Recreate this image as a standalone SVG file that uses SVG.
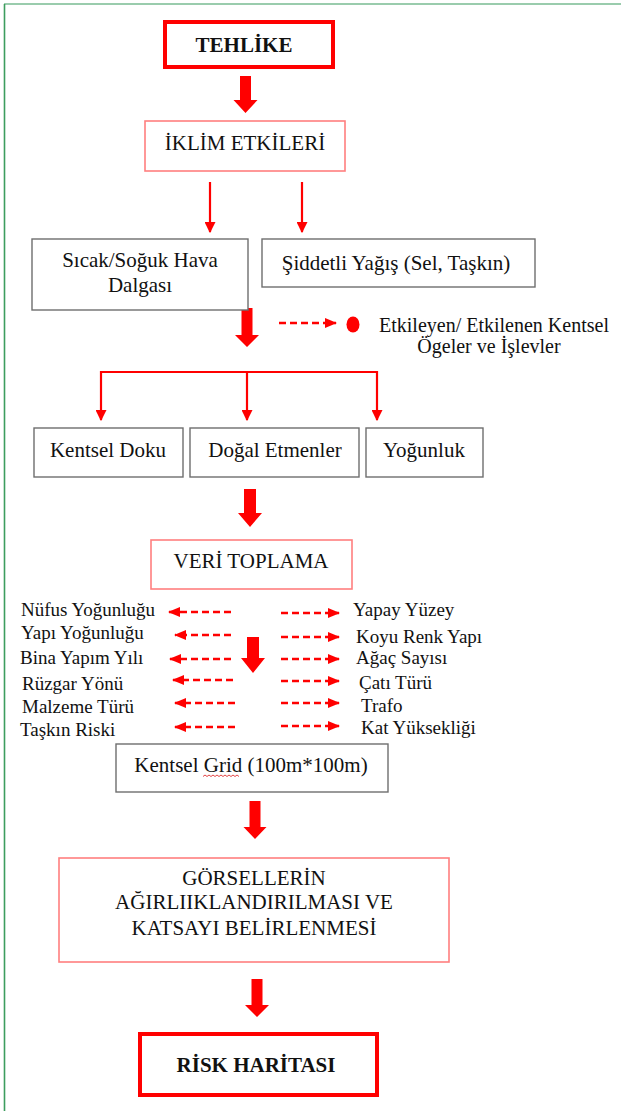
<svg xmlns="http://www.w3.org/2000/svg" width="621" height="1111" viewBox="0 0 621 1111">
<style>
text{font-family:"Liberation Serif","Times New Roman",serif;fill:#111}
.t{font-size:21px;text-anchor:middle}
.b{font-size:21px;font-weight:bold;text-anchor:middle}
.l{font-size:19px}
.lg{font-size:20px;text-anchor:middle}
.thick{fill:#fff;stroke:#ff0000;stroke-width:4}
.pink{fill:#fff;stroke:#ff7f7f;stroke-width:1.6}
.gray{fill:#fff;stroke:#6e6e6e;stroke-width:1.4}
.blk{fill:#ff0000;stroke:none}
.thin{stroke:#ff0000;stroke-width:2.2;fill:none}
.dash{stroke:#ff0000;stroke-width:2.6;fill:none;stroke-dasharray:7 4}
</style>
<defs>
<marker id="ah" viewBox="0 0 10 10" refX="9" refY="5" markerWidth="11" markerHeight="11" markerUnits="userSpaceOnUse" orient="auto">
<path d="M0,0 L10,5 L0,10 Z" fill="#ff0000"/>
</marker>
<marker id="dh" viewBox="0 0 12 10" refX="11" refY="5" markerWidth="12" markerHeight="10" markerUnits="userSpaceOnUse" orient="auto">
<path d="M0,0 L12,5 L0,10 Z" fill="#ff0000"/>
</marker>
</defs>

<g id="frame">
<line x1="4" y1="4" x2="621" y2="4" stroke="#78bb92" stroke-width="1.6"/>
<line x1="4.5" y1="4" x2="4.5" y2="1111" stroke="#3d9d5e" stroke-width="1.6"/>
</g>

<g id="connectors">
<polygon class="blk" points="240,76 251,76 251,100 257.5,100 245.5,113 233.5,100 240,100"/>
<line class="thin" x1="210" y1="182" x2="210" y2="232" marker-end="url(#ah)"/>
<line class="thin" x1="302" y1="182" x2="302" y2="232" marker-end="url(#ah)"/>
<polygon class="blk" points="241.5,308 252.5,308 252.5,335 259,335 247,347 235,335 241.5,335"/>
<path class="thin" d="M101,372 H377" stroke-width="2.6"/>
<line class="thin" x1="101" y1="371" x2="101" y2="420" marker-end="url(#ah)"/>
<line class="thin" x1="247" y1="371" x2="247" y2="420" marker-end="url(#ah)"/>
<line class="thin" x1="377" y1="371" x2="377" y2="420" marker-end="url(#ah)"/>
<polygon class="blk" points="244,489 256,489 256,513 262,513 250,527 238,513 244,513"/>
<polygon class="blk" points="247,637 259,637 259,658 265,658 253,673 241,658 247,658"/>
<polygon class="blk" points="249.5,801 260.5,801 260.5,827 266.5,827 255,839 243.5,827 249.5,827"/>
<polygon class="blk" points="251.5,979 262.5,979 262.5,1005 269,1005 257,1017 245,1005 251.5,1005"/>
<line class="dash" x1="231" y1="612" x2="169" y2="612" marker-end="url(#dh)"/>
<line class="dash" x1="231" y1="635" x2="175" y2="635" marker-end="url(#dh)"/>
<line class="dash" x1="231" y1="659" x2="170" y2="659" marker-end="url(#dh)"/>
<line class="dash" x1="233" y1="680" x2="173" y2="680" marker-end="url(#dh)"/>
<line class="dash" x1="235" y1="703" x2="175" y2="703" marker-end="url(#dh)"/>
<line class="dash" x1="235" y1="727" x2="175" y2="727" marker-end="url(#dh)"/>
<line class="dash" x1="281" y1="613" x2="339" y2="613" marker-end="url(#dh)"/>
<line class="dash" x1="281" y1="637" x2="339" y2="637" marker-end="url(#dh)"/>
<line class="dash" x1="281" y1="659" x2="339" y2="659" marker-end="url(#dh)"/>
<line class="dash" x1="281" y1="681" x2="339" y2="681" marker-end="url(#dh)"/>
<line class="dash" x1="281" y1="703" x2="339" y2="703" marker-end="url(#dh)"/>
<line class="dash" x1="281" y1="726" x2="339" y2="726" marker-end="url(#dh)"/>
</g>

<g id="legend">
<line class="dash" x1="279" y1="323" x2="336" y2="323" marker-end="url(#dh)"/>
<ellipse cx="353" cy="324.5" rx="6.5" ry="8" fill="#ff0000"/>
<text class="lg" x="494" y="332">Etkileyen/ Etkilenen Kentsel</text>
<text class="lg" x="489" y="353">Ögeler ve İşlevler</text>
</g>

<g id="tehlike">
<rect class="thick" x="165" y="22" width="168" height="45"/>
<text class="b" x="244" y="52">TEHLİKE</text>
</g>
<g id="iklim">
<rect class="pink" x="145" y="121" width="200" height="50"/>
<text class="t" x="245" y="150">İKLİM ETKİLERİ</text>
</g>
<g id="sicak">
<rect class="gray" x="32" y="239" width="216" height="71"/>
<text class="t" x="140" y="267">Sıcak/Soğuk Hava</text>
<text class="t" x="140" y="292">Dalgası</text>
</g>
<g id="siddetli">
<rect class="gray" x="262" y="239" width="273" height="48"/>
<text class="t" x="396" y="270">Şiddetli Yağış (Sel, Taşkın)</text>
</g>
<g id="kentsel-doku">
<rect class="gray" x="34" y="428" width="149" height="49"/>
<text class="t" x="108" y="457">Kentsel Doku</text>
</g>
<g id="dogal">
<rect class="gray" x="190" y="428" width="169" height="49"/>
<text class="t" x="275" y="457">Doğal Etmenler</text>
</g>
<g id="yogunluk">
<rect class="gray" x="366" y="428" width="117" height="49"/>
<text class="t" x="424" y="457">Yoğunluk</text>
</g>
<g id="veri">
<rect class="pink" x="151" y="540" width="201" height="49"/>
<text class="t" x="251" y="568">VERİ TOPLAMA</text>
</g>
<g id="left-labels">
<text class="l" x="21" y="616">Nüfus Yoğunluğu</text>
<text class="l" x="21" y="639">Yapı Yoğunluğu</text>
<text class="l" x="20" y="664">Bina Yapım Yılı</text>
<text class="l" x="22" y="690">Rüzgar Yönü</text>
<text class="l" x="22" y="713">Malzeme Türü</text>
<text class="l" x="20" y="736">Taşkın Riski</text>
</g>
<g id="right-labels">
<text class="l" x="353" y="616">Yapay Yüzey</text>
<text class="l" x="356" y="643">Koyu Renk Yapı</text>
<text class="l" x="356" y="664">Ağaç Sayısı</text>
<text class="l" x="359" y="689">Çatı Türü</text>
<text class="l" x="361" y="712">Trafo</text>
<text class="l" x="361" y="734">Kat Yüksekliği</text>
</g>
<g id="grid">
<rect class="gray" x="116" y="744" width="272" height="48"/>
<text class="t" x="251" y="772">Kentsel Grid (100m*100m)</text>
<path d="M203,776.5 l2,-1.5 l2,1.5 l2,-1.5 l2,1.5 l2,-1.5 l2,1.5 l2,-1.5 l2,1.5 l2,-1.5 l2,1.5 l2,-1.5 l2,1.5 l2,-1.5 l2,1.5 l2,-1.5 l2,1.5 l2,-1.5 l2,1.5" fill="none" stroke="#e03030" stroke-width="0.9"/>
</g>
<g id="gorsellerin">
<rect class="pink" x="59" y="858" width="390" height="104"/>
<text class="t" x="254" y="885">GÖRSELLERİN</text>
<text class="t" x="254" y="909">AĞIRLIIKLANDIRILMASI VE</text>
<text class="t" x="254" y="935">KATSAYI BELİRLENMESİ</text>
</g>
<g id="risk">
<rect class="thick" x="140" y="1034" width="237" height="61"/>
<text class="b" x="256" y="1072">RİSK HARİTASI</text>
</g>
</svg>
